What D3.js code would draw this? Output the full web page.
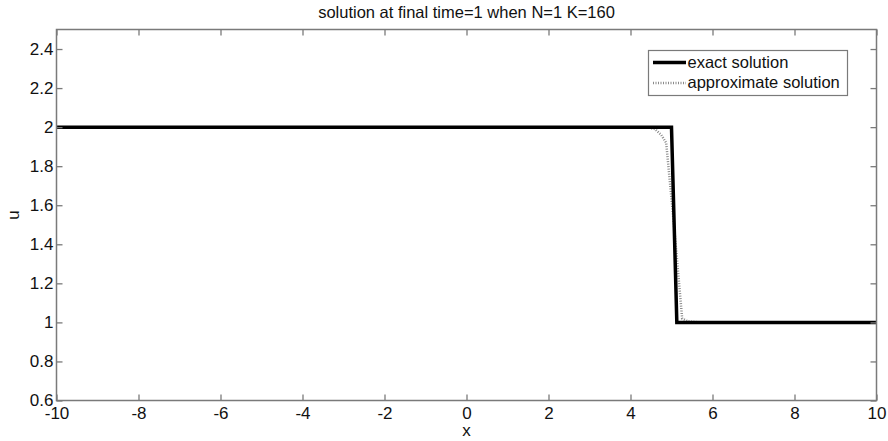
<!DOCTYPE html>
<html><head><meta charset="utf-8">
<script src="https://cdn.jsdelivr.net/npm/d3@7"></script>
<style>body{margin:0;background:#fff}svg{display:block}text{font-family:Arial,"Liberation Sans",sans-serif;fill:#111}</style>
</head><body>
<svg id="c" width="888" height="441"></svg>
<script>
const titleText = "solution at final time=1 when N=1 K=160";
const xLabel = "x", yLabel = "u";
const xTicks = [-10,-8,-6,-4,-2,0,2,4,6,8,10];
const yTicks = [0.6,0.8,1,1.2,1.4,1.6,1.8,2,2.2,2.4];
const exactX = [-10, 5.0, 5.13, 10];
const exactU = [2, 2, 1, 1];
const approxX = [-10, 4.4, 4.6, 4.75, 4.87, 5.06, 5.26, 5.4, 5.7, 10];
const approxU = [2, 2, 1.99, 1.96, 1.92, 1.5, 1.02, 1.005, 1, 1];
const legendNames = ["exact solution", "approximate solution"];

const svg = d3.select("#c");
const L = 56.5, R = 876.5, T = 29.5, B = 400.5;
const x = d3.scaleLinear().domain([-10,10]).range([L,R]);
const y = d3.scaleLinear().domain([0.6,2.5]).range([B,T]);
const axisCol = "#7a7a7a";
const FF = "Arial, 'Liberation Sans', sans-serif";

const g = svg.append("g");
const line = d3.line().x(d=>x(d[0])).y(d=>y(d[1]));
g.append("path").datum(approxX.map((v,i)=>[v,approxU[i]]))
  .attr("d", line).attr("fill","none").attr("stroke","#8a8a8a").attr("stroke-width",2.5).attr("stroke-dasharray","1,1.5");
g.append("path").datum(exactX.map((v,i)=>[v,exactU[i]]))
  .attr("d", line).attr("fill","none").attr("stroke","#000").attr("stroke-width",3.5).attr("stroke-linejoin","miter");

const fs = "17px";
const axB = d3.axisBottom(x).tickValues(xTicks).tickSize(-6).tickPadding(6).tickFormat(d=>String(d));
const axT = d3.axisTop(x).tickValues(xTicks).tickSize(-6).tickFormat("");
const axL = d3.axisLeft(y).tickValues(yTicks).tickSize(-6).tickPadding(3).tickFormat(d=>String(d));
const axR = d3.axisRight(y).tickValues(yTicks).tickSize(-6).tickFormat("");
function style(sel){ sel.selectAll("path,line").attr("stroke",axisCol).attr("stroke-width",1.3);
  sel.selectAll("text").attr("font-size",fs).attr("font-family",FF).attr("fill","#111"); sel.select(".domain").remove();}
svg.append("g").attr("transform",`translate(0,${B})`).call(axB).call(style);
svg.append("g").attr("transform",`translate(0,${T})`).call(axT).call(style);
svg.append("g").attr("transform",`translate(${L},0)`).call(axL).call(style);
svg.append("g").attr("transform",`translate(${R},0)`).call(axR).call(style);
svg.append("rect").attr("x",L).attr("y",T).attr("width",R-L).attr("height",B-T)
  .attr("fill","none").attr("stroke",axisCol).attr("stroke-width",1.5);

svg.append("text").attr("x",(L+R)/2).attr("y",18).attr("text-anchor","middle").attr("font-size","16.5px").text(titleText);
svg.append("text").attr("x",(L+R)/2).attr("y",436).attr("text-anchor","middle").attr("font-size","17px").text(xLabel);
svg.append("text").attr("transform",`translate(19,${y(1.55)}) rotate(-90)`).attr("text-anchor","middle").attr("font-size","17px").text(yLabel);

const lg = svg.append("g");
lg.append("rect").attr("x",648.5).attr("y",50.5).attr("width",199).attr("height",45).attr("fill","#fff").attr("stroke",axisCol).attr("stroke-width",1.2);
const ly = [62.5, 83];
lg.append("line").attr("x1",653).attr("x2",686).attr("y1",ly[0]).attr("y2",ly[0]).attr("stroke","#000").attr("stroke-width",3.5);
lg.append("line").attr("x1",653).attr("x2",686).attr("y1",ly[1]).attr("y2",ly[1]).attr("stroke","#8a8a8a").attr("stroke-width",2.5).attr("stroke-dasharray","1,1.5");
legendNames.forEach((n,i)=>lg.append("text").attr("x",687.5).attr("y",ly[i]+5).attr("font-size","16.5px").text(n));
</script>
</body></html>
